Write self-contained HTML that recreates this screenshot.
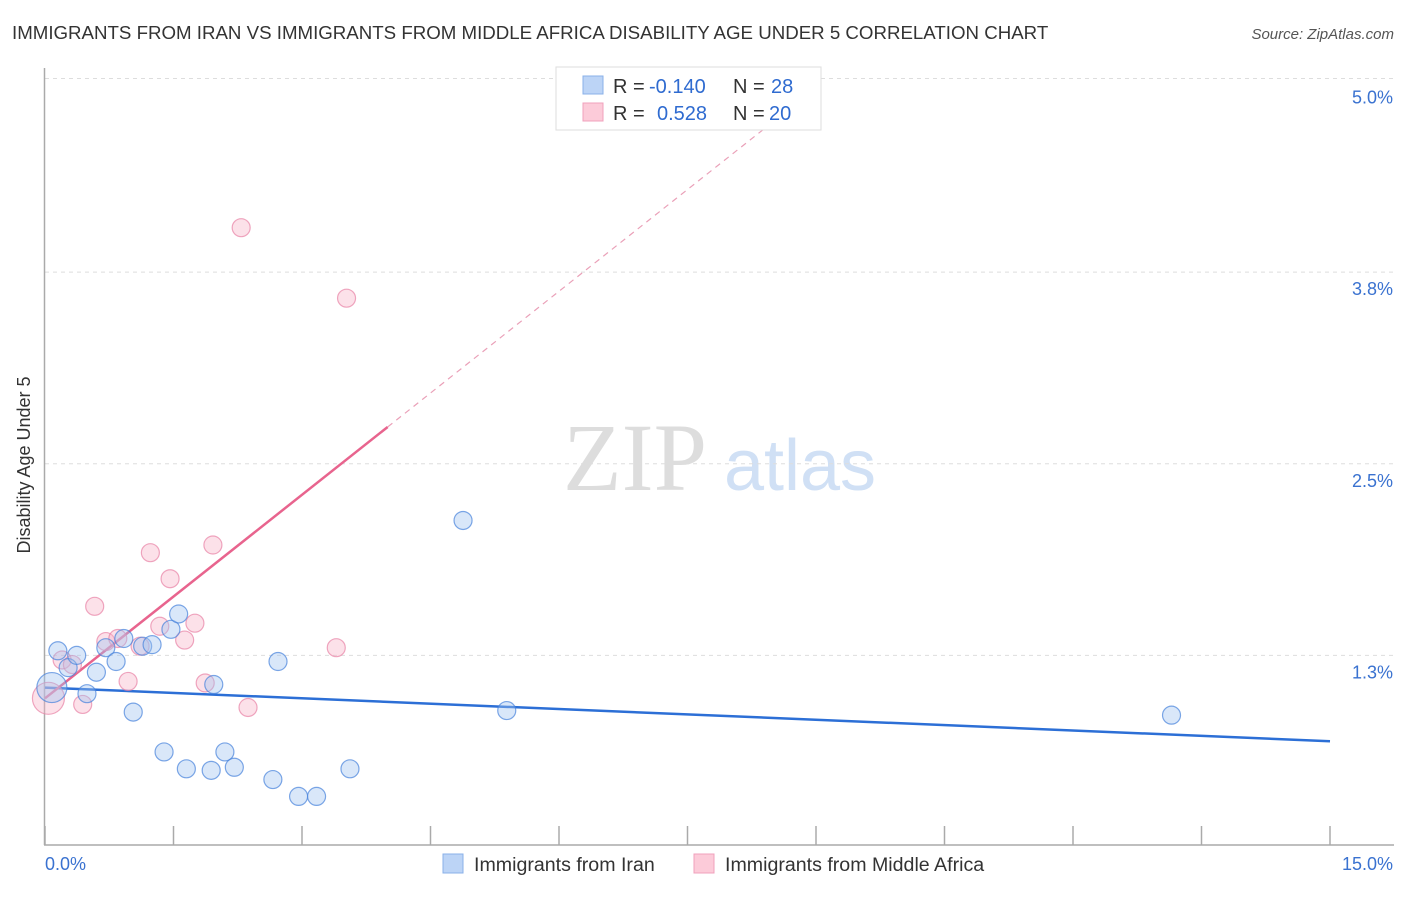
<!DOCTYPE html>
<html><head><meta charset="utf-8"><style>
body{margin:0;background:#fff;font-family:"Liberation Sans",sans-serif;}
svg text{font-family:"Liberation Sans",sans-serif;}
</style></head><body>
<svg id="chart" width="1406" height="892" xmlns="http://www.w3.org/2000/svg">
<text x="12" y="39" font-size="18.7" fill="#333">IMMIGRANTS FROM IRAN VS IMMIGRANTS FROM MIDDLE AFRICA DISABILITY AGE UNDER 5 CORRELATION CHART</text>
<text x="1394" y="39" font-size="15" fill="#555" text-anchor="end" font-style="italic">Source: ZipAtlas.com</text>
<g>
<text x="635" y="490" font-size="96" fill="#ddd" text-anchor="middle" font-family="Liberation Serif" style="font-family:'Liberation Serif',serif">ZIP</text>
<text x="800" y="490" font-size="72" fill="#d0e0f5" text-anchor="middle">atlas</text>
</g>
<g id="grid"></g>
<g id="axes"></g>
<g id="lines"></g>
<g id="points"></g>
<text x="20" y="455" font-size="18" fill="#333" text-anchor="middle" transform="rotate(-90 30 455)">Disability Age Under 5</text>
<g>
<rect x="556" y="67" width="265" height="63" fill="#fff" stroke="#ddd"/>
<rect x="583" y="76" width="20" height="18" fill="#bcd4f6" stroke="#8ab0e8"/>
<rect x="583" y="103" width="20" height="18" fill="#fccbd9" stroke="#f0a0bc"/>
<text x="613" y="93" font-size="20" fill="#333">R =</text>
<text x="649" y="93" font-size="20" fill="#2f6bd0">-0.140</text>
<text x="733" y="93" font-size="20" fill="#333">N =</text>
<text x="771" y="93" font-size="20" fill="#2f6bd0">28</text>
<text x="613" y="120" font-size="20" fill="#333">R =</text>
<text x="657" y="120" font-size="20" fill="#2f6bd0">0.528</text>
<text x="733" y="120" font-size="20" fill="#333">N =</text>
<text x="769" y="120" font-size="20" fill="#2f6bd0">20</text>
</g>
<g>
<rect x="443" y="854" width="20" height="19" fill="#bcd4f6" stroke="#8ab0e8"/>
<text x="474" y="871" font-size="19.6" fill="#333">Immigrants from Iran</text>
<rect x="694" y="854" width="20" height="19" fill="#fccbd9" stroke="#f0a0bc"/>
<text x="725" y="871" font-size="19.6" fill="#333">Immigrants from Middle Africa</text>
</g>
</svg>
<script>
const iranX=[0.08,0.15,0.27,0.37,0.49,0.60,0.71,0.83,0.92,1.03,1.14,1.25,1.39,1.47,1.56,1.65,1.94,1.97,2.10,2.21,2.66,2.72,2.96,3.17,3.56,4.88,5.39,13.15];
const iranY=[1.04,1.28,1.17,1.25,1.00,1.14,1.30,1.21,1.36,0.88,1.31,1.32,0.62,1.42,1.52,0.51,0.50,1.06,0.62,0.52,0.44,1.21,0.33,0.33,0.51,2.13,0.89,0.86];
const afrX=[0.04,0.20,0.32,0.44,0.58,0.71,0.85,0.97,1.11,1.23,1.34,1.46,1.63,1.75,1.87,1.96,2.29,2.37,3.40,3.52];
const afrY=[0.97,1.22,1.19,0.93,1.57,1.34,1.36,1.08,1.31,1.92,1.44,1.75,1.35,1.46,1.07,1.97,4.04,0.91,1.30,3.58];
const iranTrend=[1.04,0.69];
const afrTrend=[0.97,0.4425];
const afrSolidEnd=4.0, afrDashEnd=9.05;
const yTicks=[1.25,2.5,3.75,5.0];
const yTickLabels=["1.3%","2.5%","3.8%","5.0%"];
const xTickVals=[0,1.5,3,4.5,6,7.5,9,10.5,12,13.5,15];
const X0=45,X1=1330,Y0=847;
const sx=v=>X0+v*(X1-X0)/15;
const sy=v=>Y0-v*153.3;
const NS="http://www.w3.org/2000/svg";
function mk(tag,attrs,parent){const e=document.createElementNS(NS,tag);for(const k in attrs)e.setAttribute(k,attrs[k]);parent.appendChild(e);return e;}
const grid=document.getElementById('grid'),axes=document.getElementById('axes'),lines=document.getElementById('lines'),pts=document.getElementById('points');
yTicks.forEach((t,i)=>{
  const gy=t===5.0?sy(t)-2:sy(t);
  const l=mk('line',{x1:45,x2:1394,y1:gy,y2:gy,stroke:'#ddd','stroke-dasharray':'4,4'},grid);
  
  
  const tx=mk('text',{x:1393,y:sy(t)+23,'font-size':18,fill:'#3a72d0','text-anchor':'end'},axes);
  tx.textContent=yTickLabels[i];
  
  
});
const ya=mk('line',{x1:44.5,x2:44.5,y1:68,y2:845,stroke:'#aaa','stroke-width':1.5},axes);


const xa=mk('line',{x1:44,x2:1394,y1:845,y2:845,stroke:'#aaa','stroke-width':1.5},axes);


xTickVals.forEach(v=>{
  const t=mk('line',{x1:sx(v),x2:sx(v),y1:826,y2:845,stroke:'#aaa','stroke-width':1.5},axes);
  
  
});
const xl0=mk('text',{x:45,y:870,'font-size':18,fill:'#3a72d0'},axes);xl0.textContent="0.0%";


const xl1=mk('text',{x:1393,y:870,'font-size':18,fill:'#3a72d0','text-anchor':'end'},axes);xl1.textContent="15.0%";


function dot(x,y,r,fill,stroke,name){
  const c=mk('circle',{cx:sx(x),cy:sy(y),r:r,fill:fill,stroke:stroke,'stroke-width':1.2},pts);
  
  
}
afrX.forEach((x,i)=>dot(x,afrY[i],i===0?16:9,'rgba(248,180,200,0.4)','rgba(232,130,165,0.7)','middle-africa-point'));
iranX.forEach((x,i)=>dot(x,iranY[i],i===0?15:9,'rgba(160,195,240,0.4)','rgba(70,130,220,0.7)','iran-point'));
const bl=mk('line',{x1:sx(0),y1:sy(iranTrend[0]),x2:sx(15),y2:sy(iranTrend[1]),stroke:'#2c6fd6','stroke-width':2.5},lines);


const pl=mk('line',{x1:sx(0),y1:sy(afrTrend[0]),x2:sx(afrSolidEnd),y2:sy(afrTrend[0]+afrTrend[1]*afrSolidEnd),stroke:'#e8648e','stroke-width':2.5},lines);


const pd=mk('line',{x1:sx(afrSolidEnd),y1:sy(afrTrend[0]+afrTrend[1]*afrSolidEnd),x2:sx(afrDashEnd),y2:sy(afrTrend[0]+afrTrend[1]*afrDashEnd),stroke:'#eaa0b8','stroke-width':1.2,'stroke-dasharray':'6,5'},lines);


</script>
</body></html>
